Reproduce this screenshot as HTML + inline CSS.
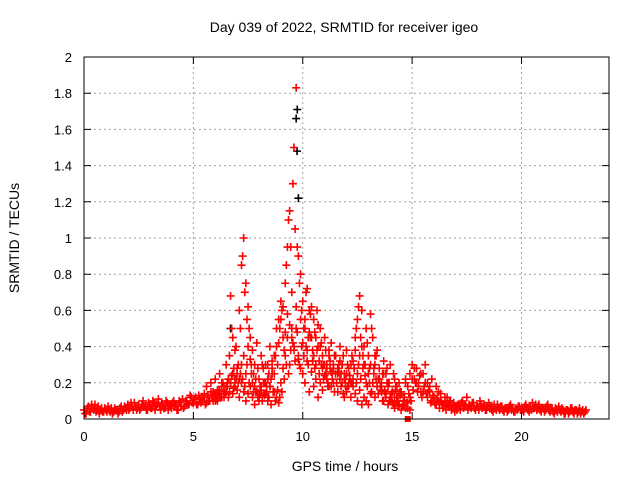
<!DOCTYPE html>
<html><head><meta charset="utf-8"><style>
body{margin:0;background:#fff}
svg{display:block;font-family:"Liberation Sans",sans-serif}
</style></head><body>
<svg id="chart" width="640" height="480" xmlns="http://www.w3.org/2000/svg">
<rect width="640" height="480" fill="#fff"/>
<text x="344" y="32" font-size="14" text-anchor="middle">Day 039 of 2022, SRMTID for receiver igeo</text>
<text x="345" y="471" font-size="14" text-anchor="middle">GPS time / hours</text>
<text x="19" y="238" font-size="14" text-anchor="middle" transform="rotate(-90 19 238)">SRMTID / TECUs</text>
<g id="grid"></g>
<g id="marks"></g>
<g id="axes"></g>
</svg>
<script>
const xTicks=[0,5,10,15,20];
const yTicks=[0,0.2,0.4,0.6,0.8,1,1.2,1.4,1.6,1.8,2];
const yTickLabels=["0","0.2","0.4","0.6","0.8","1","1.2","1.4","1.6","1.8","2"];
const trackAStart=0.0, trackAStep=0.1;
const trackA=[0.05,0.03,0.07,0.04,0.06,0.08,0.05,0.03,0.06,0.04,
0.05,0.07,0.04,0.03,0.06,0.05,0.04,0.07,0.05,0.06,
0.08,0.06,0.07,0.09,0.05,0.08,0.06,0.1,0.07,0.05,
0.08,0.06,0.09,0.07,0.11,0.05,0.08,0.06,0.09,0.07,
0.06,0.1,0.08,0.05,0.09,0.11,0.07,0.1,0.08,0.12,
0.09,0.12,0.08,0.11,0.1,0.14,0.09,0.12,0.15,0.1,
0.13,0.1,0.16,0.12,0.18,0.15,0.22,0.2,0.25,0.18,
0.28,0.22,0.3,0.35,0.25,0.4,0.33,0.2,0.18,0.15,
0.12,0.16,0.2,0.14,0.1,0.18,0.25,0.15,0.12,0.09,
0.2,0.28,0.35,0.45,0.3,0.5,0.4,0.62,0.35,0.55,
0.42,0.5,0.38,0.6,0.45,0.35,0.3,0.52,0.4,0.28,
0.3,0.22,0.35,0.18,0.28,0.25,0.15,0.32,0.2,0.12,
0.25,0.18,0.3,0.22,0.38,0.25,0.35,0.4,0.3,0.2,
0.25,0.3,0.2,0.35,0.18,0.22,0.15,0.25,0.12,0.2,
0.1,0.15,0.12,0.18,0.08,0.14,0.1,0.2,0.06,0.12,
0.22,0.28,0.2,0.18,0.25,0.15,0.2,0.12,0.18,0.1,
0.12,0.08,0.15,0.1,0.06,0.09,0.12,0.07,0.05,0.08,
0.06,0.08,0.05,0.1,0.07,0.12,0.08,0.06,0.09,0.05,
0.07,0.1,0.06,0.08,0.05,0.09,0.07,0.04,0.06,0.08,
0.05,0.07,0.04,0.06,0.05,0.08,0.06,0.04,0.05,0.07,
0.06,0.04,0.08,0.05,0.07,0.09,0.06,0.05,0.08,0.04,
0.06,0.05,0.08,0.04,0.06,0.03,0.05,0.07,0.04,0.05,
0.03,0.05,0.04,0.06,0.03,0.05,0.04,0.03,0.05,0.04];
const trackA2Start=0.05, trackA2Step=0.1;
const trackA2=[0.03,0.06,0.04,0.08,0.05,0.04,0.07,0.05,0.04,0.06,
0.04,0.05,0.06,0.04,0.05,0.03,0.06,0.04,0.07,0.05,
0.05,0.09,0.05,0.07,0.06,0.05,0.08,0.07,0.05,0.09,
0.06,0.1,0.05,0.08,0.07,0.09,0.06,0.1,0.05,0.08,
0.09,0.07,0.05,0.1,0.07,0.06,0.1,0.08,0.13,0.09,
0.11,0.08,0.13,0.09,0.12,0.08,0.13,0.1,0.12,0.14,
0.11,0.15,0.12,0.2,0.14,0.18,0.15,0.24,0.17,0.22,
0.2,0.25,0.22,0.18,0.3,0.2,0.25,0.15,0.22,0.12,
0.14,0.1,0.13,0.18,0.12,0.08,0.15,0.1,0.16,0.12,
0.15,0.22,0.3,0.25,0.38,0.42,0.32,0.48,0.3,0.4,
0.35,0.4,0.3,0.45,0.32,0.28,0.38,0.25,0.3,0.22,
0.25,0.18,0.28,0.22,0.15,0.2,0.26,0.18,0.14,0.22,
0.18,0.24,0.2,0.28,0.2,0.3,0.22,0.28,0.24,0.18,
0.2,0.15,0.28,0.22,0.14,0.18,0.1,0.16,0.2,0.1,
0.14,0.08,0.16,0.1,0.13,0.07,0.12,0.09,0.14,0.1,
0.16,0.2,0.15,0.24,0.12,0.18,0.14,0.16,0.09,0.13,
0.08,0.11,0.06,0.09,0.08,0.05,0.07,0.1,0.06,0.04,
0.05,0.07,0.09,0.06,0.08,0.05,0.07,0.09,0.06,0.07,
0.05,0.08,0.07,0.05,0.07,0.06,0.05,0.08,0.05,0.06,
0.07,0.05,0.06,0.04,0.07,0.05,0.04,0.06,0.07,0.05,
0.05,0.07,0.06,0.04,0.05,0.06,0.08,0.07,0.05,0.06,
0.04,0.07,0.05,0.06,0.04,0.06,0.04,0.05,0.06,0.03,
0.05,0.03,0.06,0.04,0.05,0.03,0.06,0.04,0.03,0.05];
const trackBStart=5.5, trackBStep=0.1;
const trackB=[0.12,0.18,0.1,0.2,0.15,0.22,0.14,0.25,0.18,0.12,
0.3,0.22,0.68,0.45,0.38,0.25,0.6,0.85,1.0,0.75,
0.62,0.45,0.38,0.3,0.42,0.22,0.35,0.28,0.2,0.3,
0.18,0.32,0.25,0.4,0.55,0.65,0.45,0.75,0.95,1.15,
0.7,1.5,1.83,0.9,0.8,0.65,0.55,0.72,0.48,0.62,
0.55,0.45,0.4,0.5,0.35,0.45,0.28,0.38,0.42,0.3,
0.35,0.25,0.4,0.3,0.22,0.38,0.28,0.2,0.32,0.45,
0.55,0.68,0.6,0.4,0.5,0.35,0.58,0.45,0.3,0.38,
0.28,0.2,0.32,0.25,0.18,0.3,0.15,0.22,0.12,0.2,
0.15,0.1,0.22,0.18,0.25,0.3,0.22,0.28,0.2,0.15,
0.25,0.3,0.2,0.15,0.22,0.12,0.18,0.1,0.14,0.08,
0.12,0.08,0.1,0.06,0.09,0.07];
const trackCStart=6.55, trackCStep=0.1;
const trackC=[0.2,0.35,0.5,0.28,0.4,0.3,0.5,0.9,0.7,0.55,
0.5,0.3,0.25,0.15,0.28,0.18,0.3,0.2,0.15,0.25,
0.22,0.15,0.35,0.3,0.5,0.6,0.38,0.85,1.1,0.95,
1.3,1.05,0.95,0.75,0.6,0.5,0.7,0.45,0.58,0.38,
0.48,0.6,0.32,0.42,0.3,0.38,0.2,0.32,0.25,0.35,
0.2,0.3,0.25,0.35,0.18,0.3,0.22,0.35,0.28,0.5,
0.62,0.45,0.35,0.3,0.42,0.28,0.5,0.25,0.35,0.22,
0.18,0.25,0.15,0.28,0.2,0.12,0.25,0.18,0.1,0.15];
const trackDStart=6.0, trackDStep=0.1;
const trackD=[0.1,0.16,0.12,0.2,0.15,0.18,0.12,0.2,0.14,0.22,
0.16,0.12,0.2,0.15,0.1,0.14,0.18,0.12,0.08,0.15,
0.1,0.18,0.14,0.3,0.22,0.4,0.28,0.35,0.5,0.42,
0.55,0.62,0.48,0.58,0.52,0.45,0.38,0.5,0.33,0.28,
0.25,0.2,0.32,0.15,0.26,0.18,0.22,0.12,0.2,0.16,
0.24,0.3,0.18,0.26,0.2,0.35,0.28,0.22,0.3,0.25,
0.15,0.2,0.12,0.18,0.14,0.1,0.16,0.08,0.12,0.1,
0.08,0.14,0.2,0.12,0.18,0.22,0.16,0.1,0.14,0.08,
0.12,0.09,0.06,0.1,0.07,0.05,0.08,0.06,0.09,0.05];
const blackT=[9.75,9.7,9.74,9.8,6.7];
const blackV=[1.71,1.66,1.48,1.22,0.5];
const squareT=[14.8];
const squareV=[0];

const L=84,R=609,T=57,B=419;
const X=h=>L+h/24*(R-L);
const Y=v=>B-v/2*(B-T);
const NS="http://www.w3.org/2000/svg";
const grid=document.getElementById('grid'),axes=document.getElementById('axes'),marks=document.getElementById('marks');
function mk(tag,attrs,parent){const e=document.createElementNS(NS,tag);for(const k in attrs)e.setAttribute(k,attrs[k]);parent.appendChild(e);return e;}
xTicks.forEach(t=>{
  if(t>0){const g=mk('line',{x1:X(t),x2:X(t),y1:T,y2:B,stroke:'#a0a0a0','stroke-dasharray':'2,3'},grid);
  
  }
  const tk=mk('path',{d:`M${X(t)},${B}v-7M${X(t)},${T}v7`,stroke:'#000'},axes);
  
  
  const lb=mk('text',{x:X(t),y:B+22,'font-size':13,'text-anchor':'middle'},axes);lb.textContent=t;
  
  
});
yTicks.forEach((t,i)=>{
  if(t>0&&t<2){const g=mk('line',{x1:L,x2:R,y1:Y(t),y2:Y(t),stroke:'#a0a0a0','stroke-dasharray':'2,3'},grid);
  
  }
  const tk=mk('path',{d:`M${L},${Y(t)}h7M${R},${Y(t)}h-7`,stroke:'#000'},axes);
  
  
  const lb=mk('text',{x:L-12,y:Y(t)+5,'font-size':13,'text-anchor':'end'},axes);lb.textContent=yTickLabels[i];
  
  
});
const frame=mk('rect',{x:L,y:T,width:R-L,height:B-T,fill:'none',stroke:'#000'},axes);


function plus(h,v,color){
  const x=X(h),y=Y(v);
  const p=mk('path',{d:`M${x-4},${y}h8M${x},${y-4}v8`,stroke:color,'stroke-width':1.6},marks);
  
  
}
blackT.forEach((t,i)=>plus(t,blackV[i],'#000'));
trackA.forEach((v,i)=>plus(trackAStart+i*trackAStep,v,'#f00'));
trackA2.forEach((v,i)=>plus(trackA2Start+i*trackA2Step,v,'#f00'));
trackB.forEach((v,i)=>plus(trackBStart+i*trackBStep,v,'#f00'));
trackC.forEach((v,i)=>plus(trackCStart+i*trackCStep,v,'#f00'));
trackD.forEach((v,i)=>plus(trackDStart+i*trackDStep,v,'#f00'));
squareT.forEach((t,i)=>{
  const s=mk('rect',{x:X(t)-3,y:Y(squareV[i])-3,width:6,height:6,fill:'#f00'},marks);
  
  
});
</script>
</body></html>
